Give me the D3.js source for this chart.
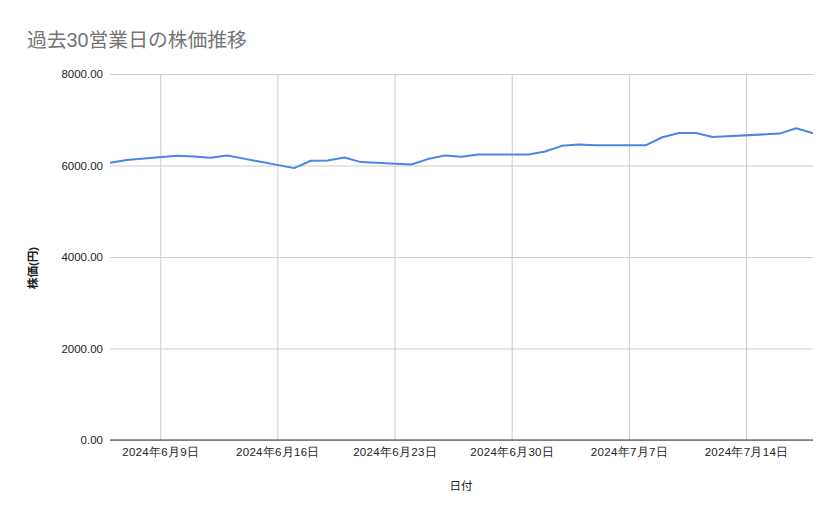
<!DOCTYPE html>
<html>
<head>
<meta charset="utf-8">
<script src="https://cdn.jsdelivr.net/npm/d3@7"></script>
<style>
  body { margin: 0; background: #fff; }
  svg { display: block; font-family: "Liberation Sans", "Noto Sans CJK JP", sans-serif; }
</style>
</head>
<body>
<svg width="839" height="519"></svg>
<script>
  // data (30 business days, 7/15 is a holiday)
  var dates = [
    "2024-06-06", "2024-06-07",
    "2024-06-10", "2024-06-11", "2024-06-12", "2024-06-13", "2024-06-14",
    "2024-06-17", "2024-06-18", "2024-06-19", "2024-06-20", "2024-06-21",
    "2024-06-24", "2024-06-25", "2024-06-26", "2024-06-27", "2024-06-28",
    "2024-07-01", "2024-07-02", "2024-07-03", "2024-07-04", "2024-07-05",
    "2024-07-08", "2024-07-09", "2024-07-10", "2024-07-11", "2024-07-12",
    "2024-07-16", "2024-07-17", "2024-07-18"
  ];
  var prices = [
    6059, 6118,
    6212, 6197, 6168, 6219, 6150,
    5943, 6103, 6110, 6175, 6074,
    6022, 6140, 6219, 6190, 6240,
    6240, 6306, 6430, 6459, 6440,
    6440, 6618, 6712, 6712, 6625,
    6697, 6815, 6705
  ];
  var yTicks = [0, 2000, 4000, 6000, 8000];
  var xTicks = ["2024-06-09", "2024-06-16", "2024-06-23", "2024-06-30", "2024-07-07", "2024-07-14"];

  var parse = d3.timeParse("%Y-%m-%d");
  var data = dates.map(function(d, i){
    return { date: parse(d), value: prices[i] };
  });

  var svg = d3.select("svg");
  // plot area
  var plotLeft = 110, plotRight = 813, plotTop = 74, plotBottom = 440;

  var x = d3.scaleTime()
    .domain([parse("2024-06-06"), parse("2024-07-18")])
    .range([plotLeft, plotRight]);
  var y = d3.scaleLinear().domain([0, 8000]).range([plotBottom, plotTop]);

  // title
  svg.append("text")
    .attr("x", 27).attr("y", 47)
    .attr("font-size", 19.8)
    .attr("fill", "#757575")
    .text("過去30営業日の株価推移");

  // horizontal grid + y labels
  var yAxis = d3.axisLeft(y)
    .tickValues(yTicks)
    .tickSize(-(plotRight - plotLeft))
    .tickPadding(7)
    .tickFormat(d3.format(".2f"));
  var gy = svg.append("g")
    .attr("transform", "translate(" + plotLeft + ",0)")
    .call(yAxis);
  gy.select(".domain").remove();
  gy.selectAll("line").attr("stroke", "#cccccc");
  gy.selectAll("text").attr("font-size", 11.5).attr("fill", "#222");

  // vertical grid + x labels
  var xAxis = d3.axisBottom(x)
    .tickValues(xTicks.map(parse))
    .tickSize(-(plotBottom - plotTop))
    .tickPadding(8)
    .tickFormat(d3.timeFormat("%Y年%-m月%-d日"));
  var gx = svg.append("g")
    .attr("transform", "translate(0," + plotBottom + ")")
    .call(xAxis);
  gx.select(".domain").remove();
  gx.selectAll("line").attr("stroke", "#cccccc");
  gx.selectAll("text").attr("font-size", 11.5).attr("fill", "#222")
    .attr("letter-spacing", "0.3px");

  // baseline
  svg.append("line")
    .attr("x1", plotLeft).attr("x2", plotRight)
    .attr("y1", y(0)).attr("y2", y(0))
    .attr("stroke", "#333").attr("stroke-width", 1);

  // line
  var line = d3.line()
    .x(function(d){ return x(d.date); })
    .y(function(d){ return y(d.value); });
  svg.append("path")
    .datum(data)
    .attr("d", line)
    .attr("fill", "none")
    .attr("stroke", "#4a86e8")
    .attr("stroke-width", 2)
    .attr("stroke-linejoin", "round");

  // axis titles
  svg.append("text")
    .attr("x", 461).attr("y", 490)
    .attr("text-anchor", "middle")
    .attr("font-size", 11.5)
    .attr("fill", "#222")
    .text("日付");
  svg.append("text")
    .attr("transform", "translate(37,268) rotate(-90)")
    .attr("text-anchor", "middle")
    .attr("font-size", 11.5)
    .attr("font-weight", "bold")
    .attr("fill", "#222")
    .text("株価(円)");
</script>
</body>
</html>
